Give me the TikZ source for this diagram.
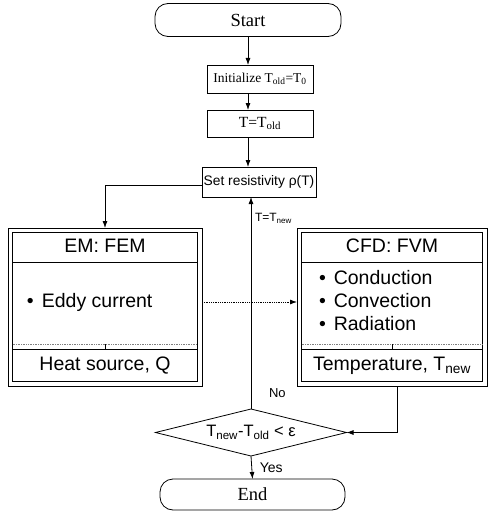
\documentclass[tikz,border=0pt]{standalone}
\usepackage{fontspec}
\setmainfont{Liberation Serif}
\setsansfont{Liberation Sans}
\usetikzlibrary{shapes.geometric,arrows.meta,calc}
\begin{document}
\begin{tikzpicture}[x=1pt,y=-1pt,
  every node/.style={inner sep=0pt, outer sep=0pt},
  serifbox/.style={draw, line width=0.8pt, font=\fontsize{13.5}{15}\selectfont\rmfamily, minimum width=106pt, minimum height=28pt},
  term/.style={draw, line width=0.8pt, rounded corners=13pt, font=\fontsize{18.5}{20}\selectfont\rmfamily, minimum width=186pt, minimum height=33pt},
  sansbox/.style={draw, line width=0.8pt, font=\fontsize{13.8}{16}\selectfont\sffamily, minimum width=114pt, minimum height=30pt},
  pkgframe/.style={draw, line width=0.8pt},
  big/.style={font=\fontsize{19.5}{22}\selectfont\sffamily},
  lab/.style={font=\fontsize{12}{14}\selectfont\sffamily},
  arr/.style={-{Latex[length=7pt,width=5pt]}, line width=0.8pt},
  thinline/.style={line width=0.7pt},
]
\useasboundingbox (0,0) rectangle (488,511);

% main column
\node[term] (start) at (248,20) {Start};
\node[serifbox] (init) at (260,79) {Initialize T\textsubscript{old}=T\textsubscript{0}};
\node[serifbox, minimum height=27pt, font=\fontsize{15.5}{17}\selectfont\rmfamily] (told) at (260,123.5) {T=T\textsubscript{old}};
\node[sansbox] (setres) at (259,182) {Set resistivity ρ(T)};

% EM package
\node[pkgframe, minimum width=194pt, minimum height=158pt] (emframe) at (105,307) {};
\draw[thinline] (12.5,232.5) rectangle (197.5,381.5);
\draw[thinline] (12.5,262) -- (197.5,262);
\draw[thinline, densely dotted, gray] (12.5,344) -- (197.5,344);
\draw[thinline] (12.5,349) -- (197.5,349);
\draw[thinline] (105,344) -- (105,349);
\node[big] (emhead) at (105,246) {EM: FEM};
\node[big, anchor=west] (emeddy) at (27,302) {\textbullet\hspace{8pt}Eddy current};
\node[big] (emheat) at (105,366) {Heat source, Q};

% CFD package
\node[pkgframe, minimum width=190pt, minimum height=158pt] (cfdframe) at (392,307) {};
\draw[thinline] (301.5,232.5) rectangle (482.5,381.5);
\draw[thinline] (301.5,262) -- (482.5,262);
\draw[thinline, densely dotted, gray] (301.5,344) -- (482.5,344);
\draw[thinline] (301.5,349) -- (482.5,349);
\draw[thinline] (392,344) -- (392,349);
\node[big] (cfdhead) at (392,246) {CFD: FVM};
\node[big, anchor=west] (cfd1) at (319,278) {\textbullet\hspace{8pt}Conduction};
\node[big, anchor=west] (cfd2) at (319,301) {\textbullet\hspace{8pt}Convection};
\node[big, anchor=west] (cfd3) at (319,324) {\textbullet\hspace{8pt}Radiation};
\node[big] (cfdtemp) at (392,366) {Temperature, T\textsubscript{new}};

% decision and end
\node[draw, line width=0.8pt, diamond, aspect=4, minimum width=191pt, minimum height=47pt, font=\fontsize{16.5}{18}\selectfont\sffamily] (dec) at (251,432.5) {T\textsubscript{new}-T\textsubscript{old} < ε};
\node[term, minimum width=185pt, minimum height=31pt] (end) at (252.5,494.5) {End};

% connectors
\draw[arr] (start.south) -- (start.south |- init.north);
\draw[arr] (start.south |- init.south) -- (start.south |- told.north);
\draw[arr] (start.south |- told.south) -- (start.south |- setres.north);
\draw[arr] ([yshift=-3pt]setres.west) -| (emframe.north);
\draw[arr, densely dotted] (emframe.east |- emeddy) -- (cfdframe.west |- emeddy);
\draw[arr] ([xshift=5pt]cfdframe.south) |- (dec.east);
\draw[arr] (dec.north) -- (dec.north |- setres.south)
  node[lab, pos=0.9, anchor=west, xshift=4pt] {T=T\textsubscript{new}}
  node[pos=0.07, anchor=south west, xshift=18pt, yshift=-3pt, font=\fontsize{13}{15}\selectfont\sffamily] {No};
\draw[arr] (dec.south) -- (end.north)
  node[midway, anchor=west, xshift=8pt, font=\fontsize{14}{16}\selectfont\sffamily] {Yes};
\end{tikzpicture}
\end{document}
